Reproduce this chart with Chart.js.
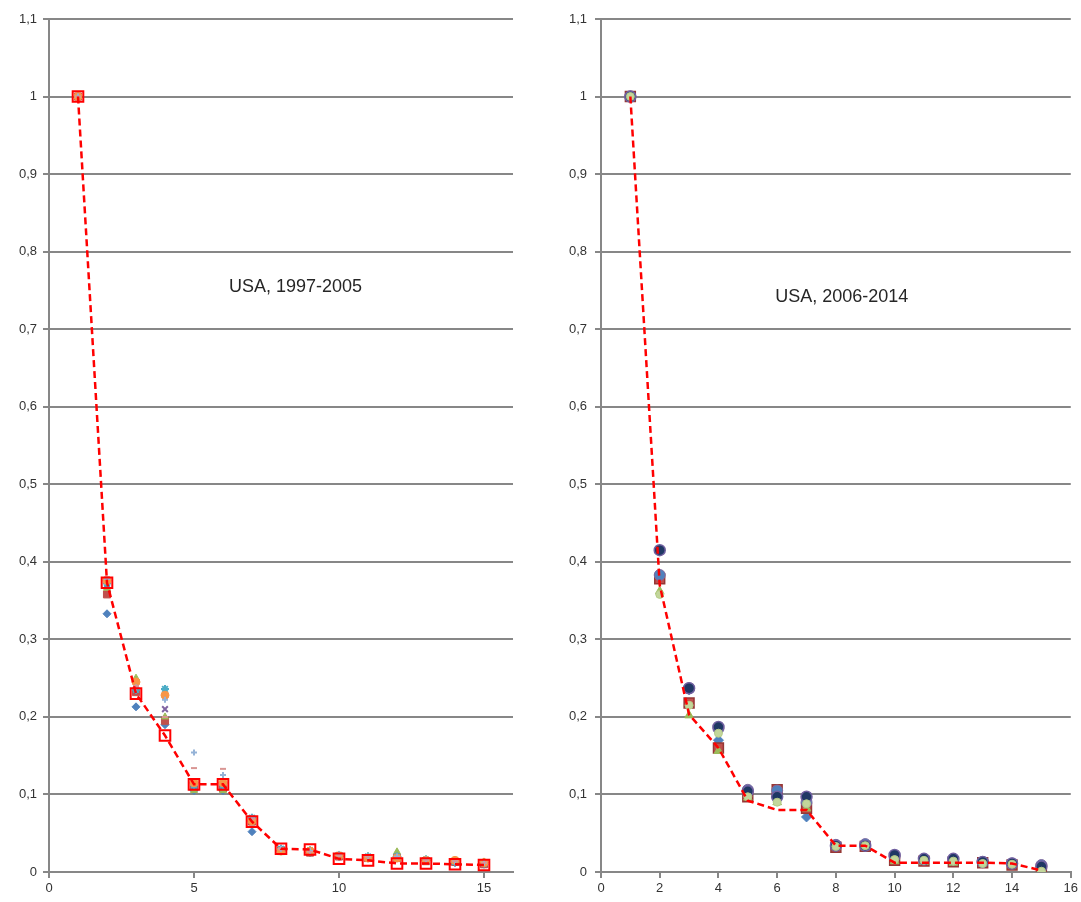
<!DOCTYPE html>
<html>
<head>
<meta charset="utf-8">
<script src="https://cdn.jsdelivr.net/npm/chart.js@4.4.1/dist/chart.umd.min.js"></script>
<style>
html,body{margin:0;padding:0;background:#fff;}
#wrap{position:relative;width:1081px;height:902px;overflow:hidden;}
canvas{position:absolute;top:0;}
</style>
</head>
<body>
<div id="wrap">
<canvas id="c1" width="540" height="902" style="left:0"></canvas>
<canvas id="c2" width="541" height="902" style="left:540px"></canvas>
</div>
<script>
// ---------- DATA ----------
const ranks = [1,2,3,4,5,6,7,8,9,10,11,12,13,14,15];
const yTicks = [0,0.1,0.2,0.3,0.4,0.5,0.6,0.7,0.8,0.9,1,1.1];
const leftXTicks = [0,5,10,15];
const rightXTicks = [0,2,4,6,8,10,12,14,16];
const leftTitle = "USA, 1997-2005";
const rightTitle = "USA, 2006-2014";

// Left panel (1997-2005), individual years
const L1 = [1,0.333,0.213,0.190,0.105,0.105,0.052,0.028,0.025,0.020,0.018,0.020,0.015,0.012,0.010];
const L2 = [1,0.358,0.232,0.195,0.110,0.108,0.065,0.028,0.025,0.020,0.018,0.018,0.014,0.013,0.010];
const L3 = [1,0.366,0.250,0.200,0.105,0.105,0.068,0.025,0.025,0.022,0.020,0.026,0.016,0.014,0.013];
const L4 = [1,0.370,0.240,0.210,0.110,0.110,0.066,0.028,0.026,0.020,0.018,0.020,0.014,0.013,0.011];
const L5 = [1,0.372,0.235,0.236,0.112,0.112,0.070,0.030,0.028,0.022,0.020,0.020,0.016,0.013,0.011];
const L6 = [1,0.376,0.245,0.228,0.115,0.115,0.066,0.027,0.027,0.021,0.018,0.018,0.015,0.015,0.012];
const L7 = [1,0.378,0.238,0.222,0.154,0.125,0.070,0.030,0.027,0.023,0.020,0.020,0.016,0.014,0.012];
const L8 = [1,0.380,0.240,0.200,0.134,0.133,0.068,0.029,0.026,0.021,0.019,0.018,0.015,0.014,0.012];
const Lmean = [1,0.373,0.230,0.176,0.113,0.113,0.065,0.030,0.029,0.017,0.015,0.011,0.011,0.010,0.009];

// Right panel (2006-2014), individual years
const R1 = [1,0.380,0.235,0.170,0.100,0.100,0.071,0.033,0.034,0.018,0.015,0.015,0.012,0.010,0.008];
const R2 = [1,0.378,0.218,0.160,0.097,0.106,0.082,0.032,0.033,0.015,0.014,0.013,0.012,0.009,0.004];
const R3 = [1,0.362,0.202,0.156,0.096,0.090,0.082,0.032,0.032,0.014,0.013,0.012,0.011,0.010,0.004];
const R4 = [1,0.383,0.237,0.185,0.106,0.105,0.090,0.035,0.036,0.020,0.016,0.016,0.013,0.011,0.009];
const R5 = [1,0.415,0.237,0.187,0.104,0.097,0.097,0.034,0.034,0.022,0.017,0.017,0.013,0.011,0.007];
const R6 = [1,0.358,0.215,0.179,0.097,0.090,0.088,0.033,0.034,0.016,0.015,0.014,0.011,0.010,0.001];
const Rmean = [1,0.370,0.203,0.160,0.092,0.080,0.080,0.034,0.034,0.012,0.012,0.012,0.012,0.011,0.002];

// ---------- HELPERS ----------
const pts = arr => ranks.map((r,i)=>({x:r,y:arr[i]}));
const fmt = v => { const r = Math.round(v*10)/10; return (r===0||r===1) ? String(r) : r.toFixed(1).replace('.',','); };
const GRID = '#878787';
const FONT = {family:'"Liberation Sans", Arial, sans-serif', size:13};

function mk(data, style, fill, border, radius, bw){
  return {data:pts(data), showLine:false, pointStyle:style, pointRadius:radius,
    pointBackgroundColor:fill, pointBorderColor:border, pointBorderWidth:bw||1, pointHoverRadius:radius};
}
// later datasets drawn on top (like Excel)
const stackOrder = list => list.map((d,i)=>Object.assign(d,{order:list.length-i}));

function titlePlugin(text, xv, yv){
  return {id:'ttl'+text.replace(/\W/g,''), afterDatasetsDraw(chart){
    const ctx = chart.ctx, xs = chart.scales.x, ys = chart.scales.y;
    ctx.save();
    ctx.font = '18px "Liberation Sans", Arial, sans-serif';
    ctx.fillStyle = '#262626';
    ctx.textAlign = 'center'; ctx.textBaseline = 'middle';
    ctx.fillText(text, xs.getPixelForValue(xv), ys.getPixelForValue(yv));
    ctx.restore();
  }};
}

function opts(xTicks, yWidth, padRight, lblPad){
  return {
    responsive:false, animation:false, devicePixelRatio:1,
    layout:{padding:{top:19,right:padRight,bottom:0,left:0}},
    plugins:{legend:{display:false}, tooltip:{enabled:false}},
    scales:{
      x:{type:'linear', min:0, max:16,
        afterBuildTicks: s => { s.ticks = xTicks.map(v=>({value:v})); },
        afterFit: s => { s.height = 30; },
        grid:{drawOnChartArea:false, drawTicks:true, tickLength:6, color:GRID, lineWidth:2},
        border:{display:true, color:GRID, width:2},
        ticks:{font:FONT, color:'#333', padding:3, maxRotation:0, autoSkip:false}},
      y:{type:'linear', min:0, max:1.1,
        afterBuildTicks: s => { s.ticks = yTicks.map(v=>({value:v})); },
        afterFit: s => { s.width = yWidth; },
        grid:{drawTicks:true, tickLength:6, color:GRID, lineWidth:2},
        border:{display:true, color:GRID, width:2},
        ticks:{font:FONT, color:'#333', padding:lblPad, callback:v=>fmt(v)}}
    }
  };
}

// ---------- LEFT ----------
new Chart(document.getElementById('c1'), {
  type:'scatter',
  data:{datasets:stackOrder([
    mk(L1,'rectRot','#4F81BD','#4F81BD',4),
    mk(L2,'rect','#C0504D','#C0504D',5),
    mk(L3,'triangle','#9BBB59','#9BBB59',4),
    mk(L4,'crossRot','#8064A2','#8064A2',4,2),
    mk(L5,'star','#4BACC6','#4BACC6',4,2),
    mk(L6,'circle','#F79646','#F79646',4),
    mk(L7,'cross','#95B3D7','#95B3D7',3,2),
    mk(L8,'line','#D99694','#D99694',3,2),
    {data:pts(Lmean), showLine:true, borderColor:'#FF0000', borderWidth:2.5, borderDash:[7,4],
     pointStyle:'rect', pointRadius:7.5, pointBackgroundColor:'rgba(255,255,255,0)',
     pointBorderColor:'#FF0000', pointBorderWidth:2, tension:0}
  ])},
  options:opts(leftXTicks, 49, 27, 6),
  plugins:[titlePlugin(leftTitle, 8.5, 0.754)]
});

// ---------- RIGHT ----------
new Chart(document.getElementById('c2'), {
  type:'scatter',
  data:{datasets:stackOrder([
    mk(R1,'rectRot','#4F81BD','#4F81BD',5),
    mk(R2,'rect','#C0504D','#953735',7,1.5),
    mk(R3,'triangle','#9BBB59','#9BBB59',5),
    mk(R4,'circle','#4F81BD','#7F6A9F',5.5),
    mk(R5,'circle','#1F3864','#7060A0',5.5,1.5),
    mk(R6,'circle','#C3D69B','#B5CC88',4),
    {data:pts(Rmean), showLine:true, borderColor:'#FF0000', borderWidth:2.5, borderDash:[7,4],
     pointRadius:0, tension:0}
  ])},
  options:opts(rightXTicks, 61, 10, 8),
  plugins:[titlePlugin(rightTitle, 8.2, 0.742)]
});
</script>
</body>
</html>
